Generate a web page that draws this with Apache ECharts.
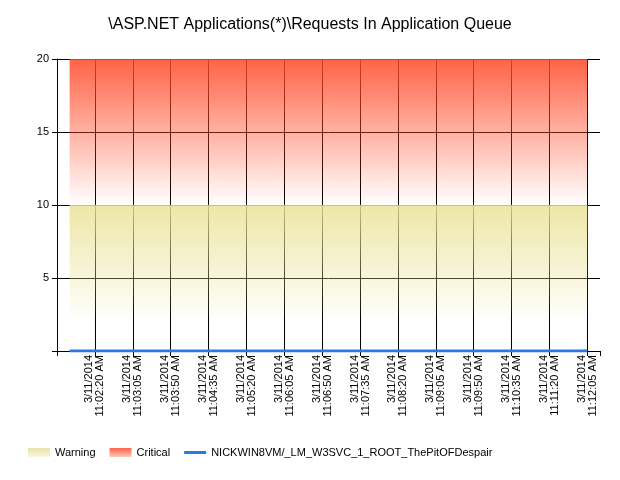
<!DOCTYPE html>
<html><head><meta charset="utf-8">
<script src="https://cdn.jsdelivr.net/npm/echarts@6/dist/echarts.min.js"></script>
<style>html,body{margin:0;padding:0;background:#fff}#c{width:620px;height:480px}</style>
</head><body><div id="c"></div>
<script>
const chartTitle = '\\ASP.NET Applications(*)\\Requests In Application Queue';
const seriesName = 'NICKWIN8VM/_LM_W3SVC_1_ROOT_ThePitOFDespair';
const sampleTimes = ['11:01:50','11:02:05','11:02:20','11:02:35','11:02:50','11:03:05','11:03:20','11:03:35','11:03:50','11:04:05','11:04:20','11:04:35','11:04:50','11:05:05','11:05:20','11:05:35','11:05:50','11:06:05','11:06:20','11:06:35','11:06:50','11:07:05','11:07:20','11:07:35','11:07:50','11:08:05','11:08:20','11:08:35','11:08:50','11:09:05','11:09:20','11:09:35','11:09:50','11:10:05','11:10:20','11:10:35','11:10:50','11:11:05','11:11:20','11:11:35','11:11:50','11:12:05'];
const requestsInQueue = [0,0,0,0,0,0,0,0,0,0,0,0,0,0,0,0,0,0,0,0,0,0,0,0,0,0,0,0,0,0,0,0,0,0,0,0,0,0,0,0,0,0];
const warningLevel = [10,10,10,10,10,10,10,10,10,10,10,10,10,10,10,10,10,10,10,10,10,10,10,10,10,10,10,10,10,10,10,10,10,10,10,10,10,10,10,10,10,10];
const criticalLevel = [20,20,20,20,20,20,20,20,20,20,20,20,20,20,20,20,20,20,20,20,20,20,20,20,20,20,20,20,20,20,20,20,20,20,20,20,20,20,20,20,20,20];
const tickDate = '3/11/2014';
const tickTimes = ['11:02:20 AM','11:03:05 AM','11:03:50 AM','11:04:35 AM','11:05:20 AM','11:06:05 AM','11:06:50 AM','11:07:35 AM','11:08:20 AM','11:09:05 AM','11:09:50 AM','11:10:35 AM','11:11:20 AM','11:12:05 AM'];
const axisStart = '11:01:35';
const axisEnd = '11:12:20';

const BASE = 11*3600 + 5; // seconds offset origin (11:00:05)
function toX(t){ const p = t.split(':').map(Number); return p[0]*3600 + p[1]*60 + p[2] - BASE; }
function toClock(v){
  let s = Math.round(v + BASE);
  let h = Math.floor(s/3600), m = Math.floor((s%3600)/60), sec = s%60;
  const ap = h >= 12 ? 'PM' : 'AM';
  let hh = h % 12; if (hh === 0) hh = 12;
  return hh + ':' + String(m).padStart(2,'0') + ':' + String(sec).padStart(2,'0') + ' ' + ap;
}
const G = echarts.graphic.LinearGradient;
const warnArea = new G(0,0,0,1,[{offset:0,color:'rgba(234,226,149,0.85)'},{offset:0.8,color:'rgba(234,226,149,0)'},{offset:1,color:'rgba(234,226,149,0)'}]);
const critArea = new G(0,0,0,1,[{offset:0,color:'rgba(255,72,38,0.85)'},{offset:1,color:'rgba(255,72,38,0)'}]);
const warnIcon = new G(0,0,0,1,[{offset:0,color:'#e8e2a8'},{offset:1,color:'#f8f6e4'}]);
const critIcon = new G(0,0,0,1,[{offset:0,color:'#ff6347'},{offset:1,color:'#ffc8bc'}]);

const chart = echarts.init(document.getElementById('c'), null, {renderer:'canvas'});
chart.setOption({
  animation: false,
  backgroundColor: '#fff',
  textStyle: {fontFamily: 'Liberation Sans'},
  title: {text: chartTitle, left: 'center', top: 12, textStyle: {fontFamily:'Liberation Sans', fontSize: 16, fontWeight: 'normal', color: '#000'}},
  grid: {left: 57, right: 20, top: 59, bottom: 129, containLabel: false},
  legend: {
    left: 28, top: 447, padding: 0, itemWidth: 22, itemHeight: 9, itemGap: 14,
    textStyle: {fontFamily:'Liberation Sans', fontSize: 11, color: '#000'},
    data: [
      {name:'Warning', icon:'rect', itemStyle:{color: warnIcon}},
      {name:'Critical', icon:'rect', itemStyle:{color: critIcon}},
      {name: seriesName, icon:'path://M0,0 L22,0 L22,3 L0,3 Z', itemStyle:{color:'#2a78e4'}}
    ]
  },
  xAxis: {
    type: 'value', min: toX(axisStart), max: toX(axisEnd), interval: 45,
    axisLine: {show: true, lineStyle: {color: '#000', width: 1}},
    axisTick: {show: true, length: 5, lineStyle: {color: '#000'}},
    splitLine: {show: true, showMaxLine: false, lineStyle: {color: '#000', width: 1}},
    axisLabel: {
      rotate: 90, fontSize: 11, color: '#000', margin: 4, lineHeight: 11,
      fontFamily: 'Liberation Sans', showMinLabel: true, showMaxLabel: true,
      formatter: function(v){ const t = toClock(v); return tickTimes.indexOf(t) >= 0 ? tickDate + '\n' + t : ''; }
    }
  },
  yAxis: {
    type: 'value', min: 0, max: 20, interval: 5,
    axisLine: {show: true, lineStyle: {color: '#000', width: 1}},
    axisTick: {show: true, length: 5, lineStyle: {color: '#000'}},
    splitLine: {show: true, lineStyle: {color: '#000', width: 1}},
    axisLabel: {fontSize: 11, color: '#000', margin: 8, fontFamily: 'Liberation Sans',
      formatter: function(v){ return v === 0 ? '' : String(v); }}
  },
  series: [
    {name:'Warning', type:'line', symbol:'none', silent:true,
     lineStyle:{width:0}, itemStyle:{color:'#e8e2a8'}, areaStyle:{color: warnArea, opacity:1, origin: 'start'},
     data: sampleTimes.map((t,i)=>[toX(t), warningLevel[i]])},
    {name:'Critical', type:'line', symbol:'none', silent:true,
     lineStyle:{width:0}, itemStyle:{color:'#ff6347'}, areaStyle:{color: critArea, opacity:1, origin: warningLevel[0]},
     data: sampleTimes.map((t,i)=>[toX(t), criticalLevel[i]])},
    {name: seriesName, type:'line', symbol:'none', z: 5,
     lineStyle:{color:'#2a78e4', width:3}, itemStyle:{color:'#2a78e4'},
     data: sampleTimes.map((t,i)=>[toX(t), requestsInQueue[i]])}
  ]
});
</script></body></html>
